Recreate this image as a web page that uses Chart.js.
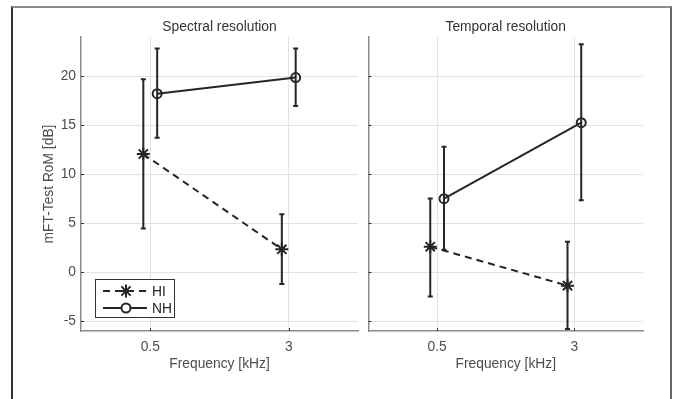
<!DOCTYPE html>
<html>
<head>
<meta charset="utf-8">
<script src="https://cdn.jsdelivr.net/npm/chart.js@4/dist/chart.umd.min.js"></script>
<style>
  body { margin: 0; background: #fff; width: 676px; height: 399px; overflow: hidden; position: relative; }
  #frame { position: absolute; left: 11px; top: 6px; width: 657px; height: 420px;
           border-top: 2px solid #8c8c8c; border-left: 2px solid #333; border-right: 2px solid #666; }
  canvas { position: absolute; top: 0; }
  #c1 { left: 0; }
  #c2 { left: 360px; }
</style>
</head>
<body>
<div id="frame"></div>
<canvas id="c1" width="370" height="399"></canvas>
<canvas id="c2" width="316" height="399"></canvas>
<script>
// frequency categories and tick labels
const freqPos = [1, 2];
const freqLabels = ['0.5', '3'];
const yTicks = [-5, 0, 5, 10, 15, 20];

// spectral resolution (left panel)
const specHI = [12.06, 2.34];
const specHIlo = [4.46, -1.2];
const specHIhi = [19.7, 5.92];
const specNH = [18.22, 19.86];
const specNHlo = [13.72, 16.96];
const specNHhi = [22.82, 22.82];

// temporal resolution (right panel)
const tempHI = [2.6, -1.37];
const tempHIlo = [-2.47, -5.8];
const tempHIhi = [7.53, 3.1];
const tempNH = [7.5, 15.26];
const tempNHlo = [2.3, 7.35];
const tempNHhi = [12.8, 23.27];

const ink = '#262626';
const font = 'Liberation Sans, Arial, sans-serif';
const fs = 13.8;

function pts(vals, lo, hi, shift) {
    return vals.map((v, i) => ({ x: freqPos[i] + shift, y: v, lo: lo[i], hi: hi[i] }));
}

const errorBars = {
    id: 'errorBars',
    beforeDatasetsDraw(chart) {
        const { ctx, scales: { x, y } } = chart;
        ctx.save();
        ctx.strokeStyle = ink;
        ctx.lineWidth = 2;
        chart.data.datasets.forEach(ds => {
            ds.data.forEach(p => {
                const px = x.getPixelForValue(p.x);
                const y1 = y.getPixelForValue(p.lo), y2 = y.getPixelForValue(p.hi);
                ctx.beginPath();
                ctx.moveTo(px, y1); ctx.lineTo(px, y2);
                ctx.moveTo(px - 2.5, y1); ctx.lineTo(px + 2.5, y1);
                ctx.moveTo(px - 2.5, y2); ctx.lineTo(px + 2.5, y2);
                ctx.stroke();
            });
        });
        ctx.restore();
    }
};

const innerTicks = {
    id: 'innerTicks',
    afterDraw(chart) {
        const { ctx, chartArea: a, scales: { x, y } } = chart;
        ctx.save();
        ctx.strokeStyle = '#333';
        ctx.lineWidth = 1;
        ctx.beginPath();
        y.ticks.forEach(t => {
            const py = Math.round(y.getPixelForValue(t.value)) + 0.5;
            ctx.moveTo(a.left, py); ctx.lineTo(a.left + 3, py);
        });
        x.ticks.forEach(t => {
            const px = Math.round(x.getPixelForValue(t.value)) + 0.5;
            ctx.moveTo(px, a.bottom); ctx.lineTo(px, a.bottom - 3);
        });
        ctx.stroke();
        // panel title
        ctx.fillStyle = '#333';
        ctx.font = fs + 'px ' + font;
        ctx.textAlign = 'center';
        ctx.textBaseline = 'middle';
        ctx.fillText(chart.options.panelTitle, (a.left + a.right) / 2, a.top - 10);
        ctx.restore();
    }
};

const boxLegend = {
    id: 'boxLegend',
    afterDraw(chart) {
        if (!chart.options.showBoxLegend) return;
        const { ctx, chartArea: a } = chart;
        const left = a.left + 14, top = a.bottom - 52, w = 79, h = 38;
        ctx.save();
        ctx.fillStyle = '#fff';
        ctx.fillRect(left, top, w, h);
        ctx.strokeStyle = '#333';
        ctx.lineWidth = 1;
        ctx.strokeRect(left + 0.5, top + 0.5, w, h);
        chart.data.datasets.forEach((ds, i) => {
            const cy = top + 12 + i * 17;
            ctx.strokeStyle = ink;
            ctx.lineWidth = 2;
            ctx.setLineDash(ds.borderDash || []);
            ctx.beginPath();
            ctx.moveTo(left + 8, cy); ctx.lineTo(left + 52, cy);
            ctx.stroke();
            ctx.setLineDash([]);
            ctx.fillStyle = '#fff';
            ctx.strokeStyle = ink;
            Chart.helpers.drawPoint(ctx, {
                pointStyle: ds.pointStyle, radius: ds.pointRadius,
                borderWidth: ds.pointBorderWidth, rotation: 0
            }, left + 31, cy);
            ctx.fillStyle = '#262626';
            ctx.font = fs + 'px ' + font;
            ctx.textAlign = 'left';
            ctx.textBaseline = 'middle';
            ctx.fillText(ds.label, left + 57, cy + 1);
        });
        ctx.restore();
    }
};

function makePanel(id, title, hi, hiLo, hiHi, nh, nhLo, nhHi, first) {
    const gridColor = '#e3e3e3';
    new Chart(document.getElementById(id), {
        type: 'line',
        data: {
            datasets: [
                {
                    label: 'HI', data: pts(hi, hiLo, hiHi, -0.05),
                    borderColor: ink, backgroundColor: ink, borderWidth: 2, borderDash: [7, 5],
                    pointStyle: 'star', pointRadius: 6.5, pointBorderWidth: 2, pointBorderColor: ink
                },
                {
                    label: 'NH', data: pts(nh, nhLo, nhHi, 0.05),
                    borderColor: ink, backgroundColor: 'rgba(0,0,0,0)', borderWidth: 2,
                    pointStyle: 'circle', pointRadius: 4.5, pointBorderWidth: 2, pointBorderColor: ink
                }
            ]
        },
        options: {
            responsive: false,
            animation: false,
            devicePixelRatio: 1,
            panelTitle: title,
            showBoxLegend: first,
            layout: { padding: { left: 0, top: 37, right: first ? 12 : 33, bottom: 0 } },
            plugins: { legend: { display: false }, tooltip: { enabled: false } },
            scales: {
                x: {
                    type: 'linear', min: 0.5, max: 2.5,
                    afterBuildTicks: s => { s.ticks = freqPos.map(v => ({ value: v })); },
                    afterFit: s => { s.height = 68; },
                    ticks: {
                        callback: (v, i) => freqLabels[i],
                        color: '#4d4d4d', font: { family: font, size: fs }, padding: 8
                    },
                    grid: { color: gridColor, drawTicks: false },
                    border: { color: '#8c8c8c', width: 1.5 },
                    title: {
                        display: true, text: 'Frequency [kHz]', color: '#4d4d4d',
                        font: { family: font, size: fs }, padding: { top: 0, bottom: 26.7 }
                    }
                },
                y: {
                    type: 'linear', min: -6, max: 24,
                    afterBuildTicks: s => { s.ticks = yTicks.map(v => ({ value: v })); },
                    afterFit: s => { s.width = first ? 81 : 6; },
                    ticks: {
                        display: first, color: '#4d4d4d', font: { family: font, size: fs }, padding: 5
                    },
                    grid: { color: gridColor, drawTicks: false },
                    border: { color: '#8c8c8c', width: 1.5 },
                    title: {
                        display: first, text: 'mFT-Test RoM [dB]', color: '#4d4d4d',
                        font: { family: font, size: fs }, padding: { top: 40.7, bottom: 0 }
                    }
                }
            }
        },
        plugins: [errorBars, innerTicks, boxLegend]
    });
}

makePanel('c1', 'Spectral resolution', specHI, specHIlo, specHIhi, specNH, specNHlo, specNHhi, true);
makePanel('c2', 'Temporal resolution', tempHI, tempHIlo, tempHIhi, tempNH, tempNHlo, tempNHhi, false);
</script>
</body>
</html>
